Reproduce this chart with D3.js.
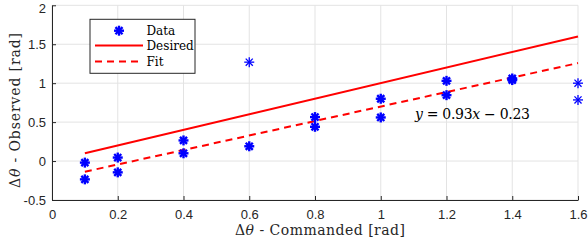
<!DOCTYPE html>
<html><head><meta charset="utf-8">
<script src="https://cdn.jsdelivr.net/npm/d3@7"></script>
<style>body{margin:0;background:#fff}svg{display:block}</style>
</head><body><svg id="c" width="588" height="242"></svg>
<script>
const dataX = [0.1,0.1,0.2,0.2,0.4,0.4,0.6,0.6,0.8,0.8,1.0,1.0,1.2,1.2,1.4,1.4,1.6,1.6];
const dataY = [-0.02,-0.235,0.045,-0.145,0.265,0.10,1.27,0.19,0.565,0.44,0.80,0.56,1.03,0.846,1.06,1.04,1.0,0.785];
const dataBold = [1,1,1,1,1,1,0,1,1,1,1,1,1,1,1,1,0,0];
const lineX = [0.1,1.6];
const fitSlope = 0.93, fitIntercept = -0.23;
const xTicks = [0,0.2,0.4,0.6,0.8,1,1.2,1.4,1.6];
const yTicks = [-0.5,0,0.5,1,1.5,2];
const legendLabels = ["Data","Desired","Fit"];

const svg = d3.select("#c");
const x = d3.scaleLinear().domain([0,1.6]).range([52,578]);
const y = d3.scaleLinear().domain([-0.5,2]).range([200,5.3]);
const sans = "'Liberation Sans', Arial, sans-serif";
const serif = "'DejaVu Serif','Liberation Serif',serif";

// grid
svg.append("g").selectAll("line").data(xTicks).join("line")
  .attr("x1",d=>x(d)).attr("x2",d=>x(d)).attr("y1",y(-0.5)).attr("y2",y(2))
  .attr("stroke","#e3e3e3").attr("stroke-width",1);
svg.append("g").selectAll("line").data(yTicks).join("line")
  .attr("y1",d=>y(d)).attr("y2",d=>y(d)).attr("x1",x(0)).attr("x2",x(1.6))
  .attr("stroke","#e3e3e3").attr("stroke-width",1);

// axes
const xa = svg.append("g").attr("transform",`translate(0,${y(-0.5)})`)
  .call(d3.axisBottom(x).tickValues(xTicks).tickSizeInner(-4).tickSizeOuter(0).tickPadding(10).tickFormat(d3.format("")));
const ya = svg.append("g").attr("transform",`translate(${x(0)},0)`)
  .call(d3.axisLeft(y).tickValues(yTicks).tickSizeInner(-4).tickSizeOuter(0).tickPadding(6).tickFormat(d=>d<0?"-"+Math.abs(d):String(d)));
[xa,ya].forEach(a=>{
  a.select(".domain").attr("stroke","#262626");
  a.selectAll(".tick line").attr("stroke","#262626");
  a.selectAll("text").attr("fill","#262626").style("font-family",sans).style("font-size","13px");
});
ya.selectAll(".tick").filter(d=>d===2).select("text").attr("y",3);

// lines
const line = d3.line().x(d=>x(d[0])).y(d=>y(d[1]));
svg.append("path").attr("d",line(lineX.map(v=>[v,v]))).attr("stroke","#ff0000").attr("stroke-width",2).attr("fill","none");
svg.append("path").attr("d",line(lineX.map(v=>[v,fitSlope*v+fitIntercept]))).attr("stroke","#ff0000").attr("stroke-width",2).attr("fill","none").attr("stroke-dasharray","7,5");

// asterisk markers
function star(g, cx, cy, r, w){
  for(let k=0;k<4;k++){
    const a = k*Math.PI/4;
    g.append("line").attr("x1",cx-r*Math.cos(a)).attr("y1",cy-r*Math.sin(a))
      .attr("x2",cx+r*Math.cos(a)).attr("y2",cy+r*Math.sin(a))
      .attr("stroke","#0000ff").attr("stroke-width",w);
  }
}
const mg = svg.append("g");
dataX.forEach((d,i)=>star(mg, x(d), y(dataY[i]), 5, dataBold[i]?2.4:1.3));

// equation
const eq = svg.append("text").attr("x",415).attr("y",118.5).style("font-family",serif).style("font-size","14px").attr("fill","#000")
  .attr("textLength",115).attr("lengthAdjust","spacing");
eq.append("tspan").attr("font-style","italic").text("y");
eq.append("tspan").text(" = 0.93");
eq.append("tspan").attr("font-style","italic").text("x");
eq.append("tspan").text(" − 0.23");

// legend
const lg = svg.append("g");
lg.append("rect").attr("x",90).attr("y",19.3).attr("width",105).attr("height",54).attr("fill","#fff").attr("stroke","#262626").attr("stroke-width",1);
const rows = [30.7,45.5,61.5];
star(lg,119,rows[0],5,2.4);
lg.append("line").attr("x1",95).attr("x2",143).attr("y1",rows[1]).attr("y2",rows[1]).attr("stroke","#ff0000").attr("stroke-width",2);
lg.append("line").attr("x1",95).attr("x2",143).attr("y1",rows[2]).attr("y2",rows[2]).attr("stroke","#ff0000").attr("stroke-width",2).attr("stroke-dasharray","7,5");
lg.selectAll("text.l").data(legendLabels).join("text").attr("class","l")
  .attr("x",146.5).attr("y",(d,i)=>rows[i]+4.5).text(d=>d)
  .style("font-family",serif).style("font-size","12px").attr("fill","#000");

// axis labels
const xl = svg.append("text").attr("x",320).attr("y",234.5).attr("text-anchor","middle").style("font-family",serif).style("font-size","14px").attr("fill","#262626")
  .attr("textLength",170).attr("lengthAdjust","spacing");
xl.append("tspan").text("Δ");
xl.append("tspan").attr("font-style","italic").text("θ");
xl.append("tspan").text(" - Commanded [rad]");
const yl = svg.append("text").attr("transform","translate(20,110.5) rotate(-90)").attr("text-anchor","middle").style("font-family",serif).style("font-size","14px").attr("fill","#262626")
  .attr("textLength",155).attr("lengthAdjust","spacing");
yl.append("tspan").text("Δ");
yl.append("tspan").attr("font-style","italic").text("θ");
yl.append("tspan").text(" - Observed [rad]");
</script></body></html>
